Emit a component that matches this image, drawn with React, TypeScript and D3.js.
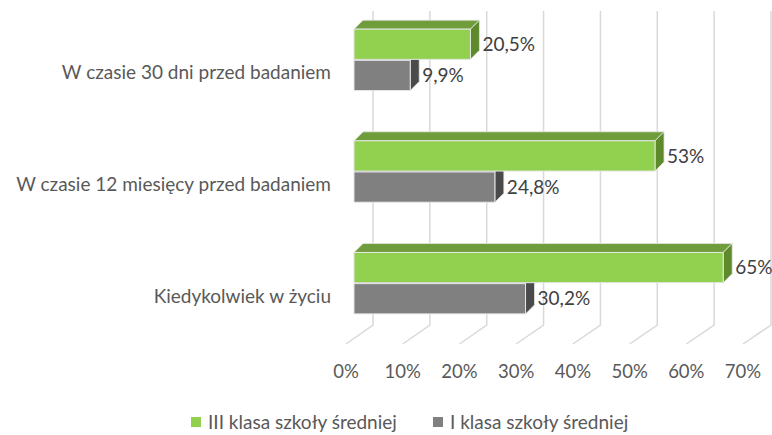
import React, { useRef, useEffect } from 'react';
import * as d3 from 'd3';

// kategorie (od góry do dołu)
const categories = [
  'W czasie 30 dni przed badaniem',
  'W czasie 12 miesięcy przed badaniem',
  'Kiedykolwiek w życiu',
];
const seriesNames = ['III klasa szkoły średniej', 'I klasa szkoły średniej'];
const seriesIII = [20.5, 53, 65];
const seriesI = [9.9, 24.8, 30.2];
const ticks = [0, 10, 20, 30, 40, 50, 60, 70];

interface BarItem {
  cat: string;
  series: string;
  value: number;
}

const colors: Record<string, { front: string; top: string; side: string }> = {
  [seriesNames[0]]: { front: '#92d050', top: '#6f9d3b', side: '#5e8a2c' },
  [seriesNames[1]]: { front: '#808080', top: '#5a5a5a', side: '#4a4a4a' },
};

const fmt = (v: number) => String(v).replace('.', ',') + '%';

const App: React.FC = () => {
  const svgRef = useRef<SVGSVGElement | null>(null);
  const W = 772;
  const H = 435;

  useEffect(() => {
    if (!svgRef.current) return;
    const svg = d3.select(svgRef.current);
    svg.selectAll('*').remove();

    const font = 'Lato, "Open Sans", sans-serif';
    const depth = { dx: 9, dy: -9 };

    // skale: przód słupków, tylna ściana, krawędź podłogi
    const x = d3.scaleLinear().domain([0, 70]).range([354, 751.6]);
    const xBack = d3.scaleLinear().domain([0, 70]).range([373, 771]);
    const xFloor = d3.scaleLinear().domain([0, 70]).range([346, 743]);
    const floorBackY = 325;
    const floorFrontY = 344;

    const y = d3.scaleBand<string>()
      .domain(categories)
      .range([4, 339])
      .paddingInner(0.45)
      .paddingOuter(0.225);
    const ySub = d3.scaleBand<string>()
      .domain(seriesNames)
      .range([0, y.bandwidth()])
      .paddingInner(0.03);

    // siatka (ściana tylna + podłoga)
    const grid = svg.append('g');
    grid.selectAll('path')
      .data(ticks)
      .enter().append('path')
      .attr('d', d => `M${xBack(d)},11 L${xBack(d)},${floorBackY} L${xFloor(d)},${floorFrontY}`)
      .attr('fill', 'none')
      .attr('stroke', '#d9d9d9')
      .attr('stroke-width', 1.5);

    // etykiety osi X
    svg.append('g').selectAll('text')
      .data(ticks)
      .enter().append('text')
      .attr('x', d => xFloor(d))
      .attr('y', 372)
      .attr('dy', '0.35em')
      .attr('text-anchor', 'middle')
      .attr('font-family', font)
      .attr('font-size', 18.5)
      .attr('fill', '#595959')
      .text(d => `${d}%`);

    // etykiety kategorii
    svg.append('g').selectAll('text')
      .data(categories)
      .enter().append('text')
      .attr('x', 331)
      .attr('y', d => y(d)! + y.bandwidth() / 2 + 13)
      .attr('dy', '0.35em')
      .attr('text-anchor', 'end')
      .attr('font-family', font)
      .attr('font-size', 19)
      .attr('fill', '#595959')
      .text(d => d);

    const bars: BarItem[] = [];
    categories.forEach((c, i) => {
      bars.push({ cat: c, series: seriesNames[1], value: seriesI[i] });
      bars.push({ cat: c, series: seriesNames[0], value: seriesIII[i] });
    });

    const h = ySub.bandwidth();
    const barG = svg.append('g')
      .selectAll('g')
      .data(bars)
      .enter().append('g');

    // górna ściana
    barG.append('path')
      .attr('d', d => {
        const x0 = x(0), x1 = x(d.value);
        const yt = y(d.cat)! + ySub(d.series)!;
        return `M${x0},${yt} L${x0 + depth.dx},${yt + depth.dy} L${x1 + depth.dx},${yt + depth.dy} L${x1},${yt} Z`;
      })
      .attr('fill', d => colors[d.series].top)
      .attr('stroke', '#e6e6e6')
      .attr('stroke-width', 0.8);

    // boczna ściana
    barG.append('path')
      .attr('d', d => {
        const x1 = x(d.value);
        const yt = y(d.cat)! + ySub(d.series)!;
        return `M${x1},${yt} L${x1 + depth.dx},${yt + depth.dy} L${x1 + depth.dx},${yt + h + depth.dy} L${x1},${yt + h} Z`;
      })
      .attr('fill', d => colors[d.series].side)
      .attr('stroke', '#e6e6e6')
      .attr('stroke-width', 0.8);

    // przód
    barG.append('rect')
      .attr('x', x(0))
      .attr('y', d => y(d.cat)! + ySub(d.series)!)
      .attr('width', d => x(d.value) - x(0))
      .attr('height', h)
      .attr('fill', d => colors[d.series].front)
      .attr('stroke', '#e6e6e6')
      .attr('stroke-width', 1);

    // etykiety danych
    barG.append('text')
      .attr('x', d => x(d.value) + depth.dx + 3)
      .attr('y', d => y(d.cat)! + ySub(d.series)! + h / 2)
      .attr('dy', '0.35em')
      .attr('font-family', font)
      .attr('font-size', 19)
      .attr('fill', '#404040')
      .text(d => fmt(d.value));

    // legenda
    const legendX = [191, 433];
    const legend = svg.append('g').selectAll('g')
      .data(seriesNames)
      .enter().append('g')
      .attr('transform', (_d, i) => `translate(${legendX[i]},417)`);
    legend.append('rect')
      .attr('width', 10)
      .attr('height', 10)
      .attr('fill', d => colors[d].front);
    legend.append('text')
      .attr('x', 17)
      .attr('y', 5)
      .attr('dy', '0.35em')
      .attr('font-family', font)
      .attr('font-size', 19)
      .attr('fill', '#595959')
      .text(d => d);
  }, []);

  return (
    <div style={{ position: 'absolute', left: 0, top: 0, background: '#fff' }}>
      <svg ref={svgRef} width={W} height={H} style={{ display: 'block' }}></svg>
    </div>
  );
};

export default App;
